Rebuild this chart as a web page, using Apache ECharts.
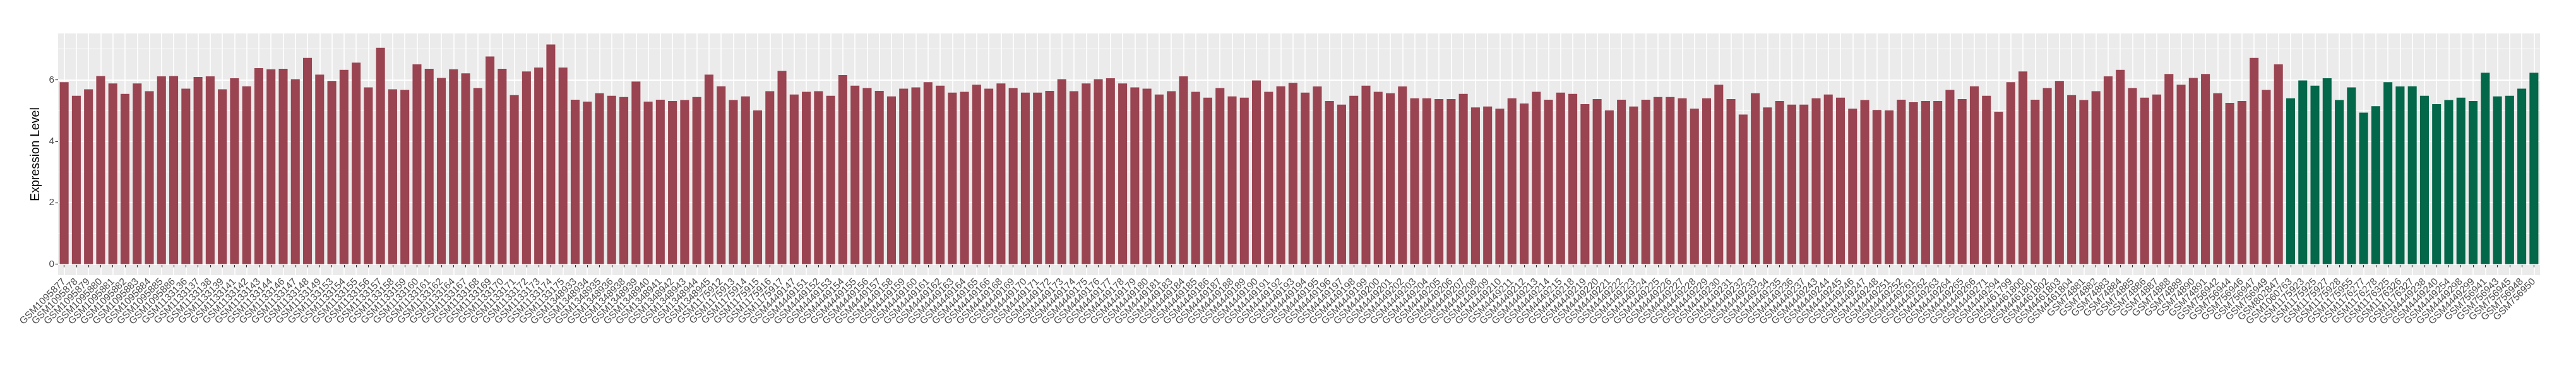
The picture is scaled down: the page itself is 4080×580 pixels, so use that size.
<!DOCTYPE html>
<html>
<head>
<meta charset="utf-8">
<script src="https://cdn.jsdelivr.net/npm/echarts/dist/echarts.min.js"></script>
<style>html,body{margin:0;padding:0;background:#fff}#c{width:4080px;height:580px}</style>
</head>
<body>
<div id="c"></div>
<script>
// ---- DATA ----
const tumorSamples = [
"GSM1095877","GSM1095878","GSM1095879","GSM1095880","GSM1095881","GSM1095882","GSM1095883","GSM1095884","GSM1095885","GSM1095886",
"GSM1133136","GSM1133137","GSM1133138","GSM1133139","GSM1133141","GSM1133142","GSM1133143","GSM1133144","GSM1133146","GSM1133147",
"GSM1133148","GSM1133149","GSM1133153","GSM1133154","GSM1133155","GSM1133156","GSM1133157","GSM1133158","GSM1133159","GSM1133160",
"GSM1133161","GSM1133162","GSM1133164","GSM1133167","GSM1133168","GSM1133169","GSM1133170","GSM1133171","GSM1133172","GSM1133173",
"GSM1133174","GSM1133175",
"GSM1348933","GSM1348934","GSM1348935","GSM1348936","GSM1348938","GSM1348939","GSM1348940","GSM1348941","GSM1348942","GSM1348943",
"GSM1348944","GSM1348945",
"GSM1175912","GSM1175913","GSM1175914","GSM1175915","GSM1175916","GSM1175917",
"GSM4449147","GSM4449151","GSM4449152","GSM4449153","GSM4449154","GSM4449155","GSM4449156","GSM4449157","GSM4449158","GSM4449159",
"GSM4449160","GSM4449161","GSM4449162","GSM4449163","GSM4449164","GSM4449165","GSM4449166","GSM4449168","GSM4449169","GSM4449170",
"GSM4449171","GSM4449172","GSM4449173","GSM4449174","GSM4449175","GSM4449176","GSM4449177","GSM4449178","GSM4449179","GSM4449180",
"GSM4449181","GSM4449183","GSM4449184","GSM4449185","GSM4449186","GSM4449187","GSM4449188","GSM4449189","GSM4449190","GSM4449191",
"GSM4449192","GSM4449193","GSM4449194","GSM4449195","GSM4449196","GSM4449197","GSM4449198","GSM4449199","GSM4449200","GSM4449201",
"GSM4449202","GSM4449203","GSM4449204","GSM4449205","GSM4449206","GSM4449207","GSM4449208","GSM4449209","GSM4449210","GSM4449211",
"GSM4449212","GSM4449213","GSM4449214","GSM4449215","GSM4449218","GSM4449219","GSM4449220","GSM4449221","GSM4449222","GSM4449223",
"GSM4449224","GSM4449225","GSM4449226","GSM4449227","GSM4449228","GSM4449229","GSM4449230","GSM4449231","GSM4449232","GSM4449233",
"GSM4449234","GSM4449235","GSM4449236","GSM4449237","GSM4449243","GSM4449244","GSM4449245","GSM4449246","GSM4449247","GSM4449248",
"GSM4449251","GSM4449252","GSM4449261","GSM4449262","GSM4449263","GSM4449264","GSM4449265","GSM4449266","GSM4449271","GSM4449294",
"GSM4461799","GSM4461800","GSM4461801","GSM4461802","GSM4461803","GSM4461804",
"GSM74881","GSM74882","GSM74883","GSM74884","GSM74885","GSM74886","GSM74887","GSM74888","GSM74889","GSM74890","GSM74891",
"GSM756942","GSM756944","GSM756946","GSM756947","GSM756949","GSM802847"
];
const tumorValues = [
5.92,5.48,5.69,6.12,5.88,5.54,5.88,5.63,6.11,6.12,
5.71,6.09,6.11,5.69,6.05,5.79,6.38,6.34,6.36,6.02,
6.71,6.17,5.96,6.32,6.56,5.75,7.04,5.69,5.67,6.50,
6.36,6.06,6.34,6.21,5.73,6.76,6.36,5.50,6.27,6.40,
7.15,6.40,
5.35,5.29,5.56,5.48,5.44,5.94,5.29,5.35,5.31,5.34,
5.44,6.17,
5.79,5.34,5.46,5.00,5.63,6.29,
5.52,5.61,5.63,5.48,6.15,5.81,5.73,5.64,5.46,5.71,
5.75,5.92,5.81,5.58,5.61,5.84,5.71,5.88,5.73,5.58,
5.58,5.64,6.02,5.63,5.88,6.02,6.05,5.88,5.75,5.71,
5.52,5.63,6.11,5.61,5.42,5.73,5.46,5.42,5.98,5.61,
5.79,5.90,5.58,5.78,5.31,5.19,5.48,5.81,5.61,5.56,
5.78,5.40,5.40,5.37,5.37,5.54,5.10,5.13,5.06,5.40,
5.23,5.61,5.35,5.58,5.54,5.21,5.37,5.00,5.35,5.13,
5.35,5.44,5.44,5.40,5.06,5.40,5.84,5.37,4.87,5.56,
5.10,5.31,5.19,5.19,5.40,5.52,5.42,5.06,5.34,5.02,
5.00,5.35,5.27,5.31,5.31,5.67,5.37,5.79,5.48,4.96,
5.92,6.27,5.35,5.73,5.96,5.50,
5.34,5.63,6.11,6.32,5.73,5.42,5.52,6.19,5.84,6.06,6.19,
5.56,5.25,5.31,6.71,5.67,6.50
];
const normalSamples = [
"GSM1060763","GSM1175923","GSM1175925","GSM1175927","GSM1175928","GSM1175955","GSM1176277","GSM1176278",
"GSM1176325","GSM1176326","GSM1176327","GSM4449238","GSM4449240","GSM4449254","GSM4449298","GSM4449299",
"GSM756941","GSM756943","GSM756945","GSM756948","GSM756950"
];
const normalValues = [
5.40,5.98,5.81,6.05,5.34,5.75,4.93,5.14,
5.92,5.78,5.79,5.48,5.21,5.34,5.42,5.31,
6.23,5.46,5.48,5.71,6.23
];
const majorTicks = [0, 2, 4, 6];
const minorTicks = [1, 3, 5, 7];
const yTitle = "Expression Level";

// ---- BUILD ----
const categories = tumorSamples.concat(normalSamples);
const tumorData = tumorValues.concat(normalValues.map(() => null));
const normalData = tumorValues.map(() => null).concat(normalValues);
const allVals = tumorValues.concat(normalValues);
const vMax = Math.max(...allVals);
const yMin = -0.05 * vMax, yMax = 1.05 * vMax;   // ggplot-style expansion

const FONT = "Liberation Sans, Arial, sans-serif";
const chart = echarts.init(document.getElementById('c'), null, {renderer: 'canvas'});
chart.setOption({
  animation: false,
  backgroundColor: '#FFFFFF',
  grid: {left: 92, right: 57, top: 53, bottom: 144, show: true, backgroundColor: '#EBEBEB', borderWidth: 0, containLabel: false},
  xAxis: {
    type: 'category', data: categories, boundaryGap: true,
    axisLine: {show: false},
    axisTick: {show: true, alignWithLabel: true, interval: 0, length: 5, lineStyle: {color: '#333333', width: 1.2}},
    axisLabel: {interval: 0, rotate: 45, fontSize: 15.5, color: '#4D4D4D', fontFamily: FONT, margin: 8},
    splitLine: {show: true, interval: 0, alignWithLabel: true, lineStyle: {color: '#FFFFFF', width: 1.6}}
  },
  yAxis: {
    type: 'value', min: yMin, max: yMax,
    name: yTitle, nameLocation: 'middle', nameGap: 14,
    nameTextStyle: {fontSize: 19.5, fontWeight: 'normal', color: '#000000', fontFamily: FONT},
    axisLine: {show: false},
    axisTick: {show: true, length: 4.5, customValues: majorTicks, lineStyle: {color: '#333333', width: 1.2}},
    axisLabel: {customValues: majorTicks, fontSize: 15.5, color: '#4D4D4D', fontFamily: FONT, margin: 6},
    splitLine: {show: false}
  },
  series: [
    {
      type: 'bar', name: 'Tumor', data: tumorData, barWidth: '73%', barGap: '-100%', z: 2,
      itemStyle: {color: '#9A4351'},
      markLine: {
        z: 1, silent: true, symbol: ['none', 'none'], label: {show: false}, animation: false,
        emphasis: {disabled: true},
        data: majorTicks.map(v => ({yAxis: v, lineStyle: {color: '#FFFFFF', width: 1.8, type: 'solid'}}))
          .concat(minorTicks.map(v => ({yAxis: v, lineStyle: {color: '#FFFFFF', width: 0.9, type: 'solid'}})))
      }
    },
    {
      type: 'bar', name: 'Normal', data: normalData, barWidth: '73%', barGap: '-100%', z: 2,
      itemStyle: {color: '#03674A'}
    }
  ]
});
</script>
</body>
</html>
